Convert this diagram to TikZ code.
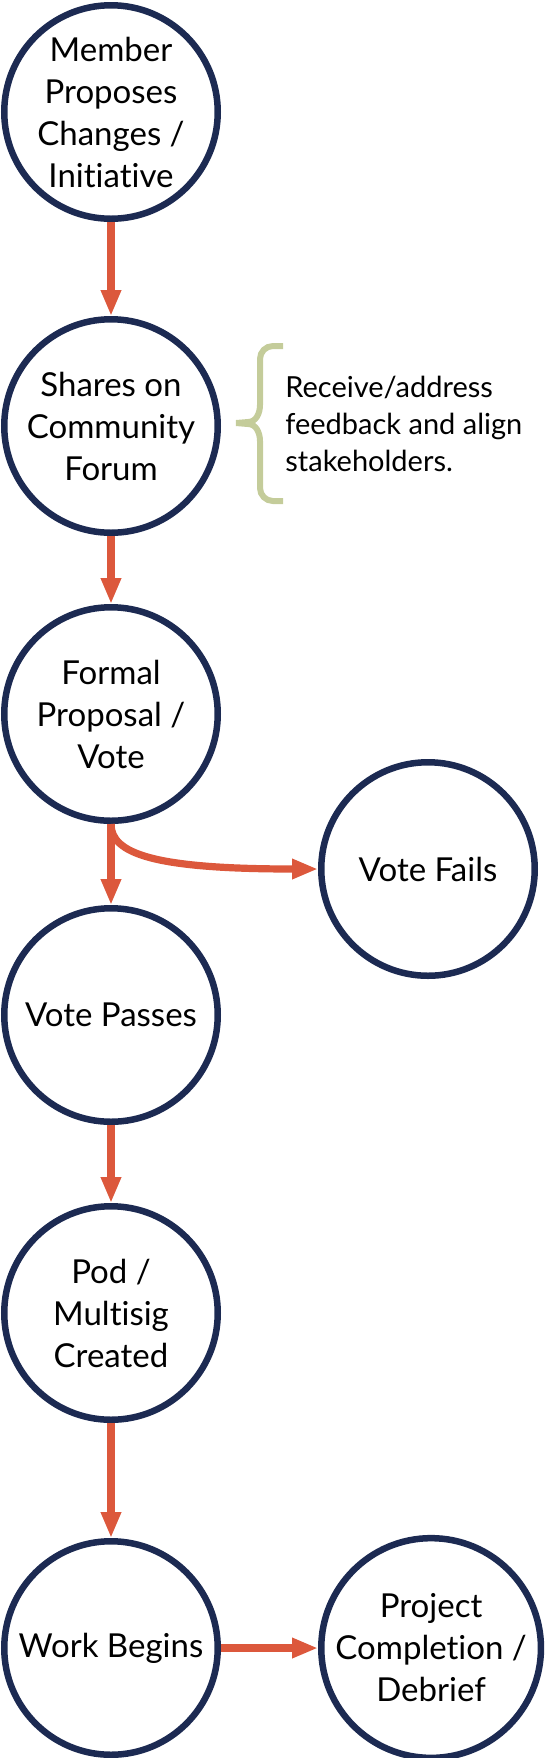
\documentclass[tikz,border=0pt]{standalone}
\usepackage{fontspec}
\setmainfont{Lato}[Ligatures={NoCommon,NoRare}]
\usetikzlibrary{positioning,arrows.meta}

\definecolor{navy}{RGB}{28,42,82}
\definecolor{flowred}{RGB}{220,88,60}
\definecolor{sage}{RGB}{196,204,154}

\begin{document}
\begin{tikzpicture}[%
    stage/.style={%
        draw=navy,
        circle,
        line width=3.25pt,
        inner sep=0pt,
        minimum size=106.75pt,
        align=center,
        font=\fontsize{16.5}{21}\selectfont
    },
    outcome/.style={%
        draw=navy,
        circle,
        line width=3.25pt,
        inner sep=0pt,
        minimum size=106.75pt,
        align=center,
        font=\fontsize{16.5}{21}\selectfont
    },
    note/.style={%
        inner sep=0pt,
        align=left,
        font=\fontsize{14.5}{18.5}\selectfont
    },
    flow/.style={%
        draw=flowred,
        line width=3.6pt
    },
    bracket/.style={%
        draw=sage,
        line width=3pt
    },
    >={Triangle[length=13pt,width=9.5pt]}
]

\useasboundingbox (0,0) rectangle (272.5pt,-879pt);

% Proposal and discussion
\node[stage] (member) at (55.5pt,-56pt) {Member\\Proposes\\Changes /\\Initiative};
\node[stage, below=47pt of member] (forum) {Shares on\\Community\\Forum};

% Feedback note
\coordinate (braceTop) at (141.5pt,-173pt);
\coordinate (braceTip) at (118pt,-211.5pt);
\coordinate (braceBottom) at (141.5pt,-250.5pt);
\node[note, anchor=west] (feedback) at (142.5pt,-212pt) {Receive/address\\feedback and align\\stakeholders.};

% Vote
\node[stage, below=34pt of forum] (formal) {Formal\\Proposal /\\Vote};
\node[stage, below=40.5pt of formal] (votePasses) {Vote Passes};
\node[outcome, right=48.5pt of formal, yshift=-77.5pt] (voteFails) {Vote Fails};

% Execution
\node[stage, below=39pt of votePasses] (pod) {Pod /\\Multisig\\Created};
\node[stage, below=57.5pt of pod] (work) {Work Begins};
\node[outcome, right=48.5pt of work] (completion) {Project\\Completion /\\Debrief};

% Arrows
\draw[flow, ->] (member) -- (forum);
\draw[flow, ->] (forum) -- (formal);
\draw[flow, ->] (formal) -- (votePasses);
\draw[flow, ->] (formal.south) .. controls +(0,-15pt) and +(-81.5pt,0) .. (voteFails.west);
\draw[flow, ->] (votePasses) -- (pod);
\draw[flow, ->] (pod) -- (work);
\draw[flow, ->] (work) -- (completion);

% Brace
\draw[bracket] (braceTop) -- ++(-5pt,0) to[out=180,in=90] ++(-6.5pt,-6.5pt)
    -- ++(0,-23pt) to[out=-90,in=0] ++(-6pt,-8.5pt) -- (braceTip);
\draw[bracket] (braceBottom) -- ++(-5pt,0) to[out=180,in=-90] ++(-6.5pt,6.5pt)
    -- ++(0,23.5pt) to[out=90,in=0] ++(-6pt,8.5pt) -- (braceTip);

\end{tikzpicture}
\end{document}
